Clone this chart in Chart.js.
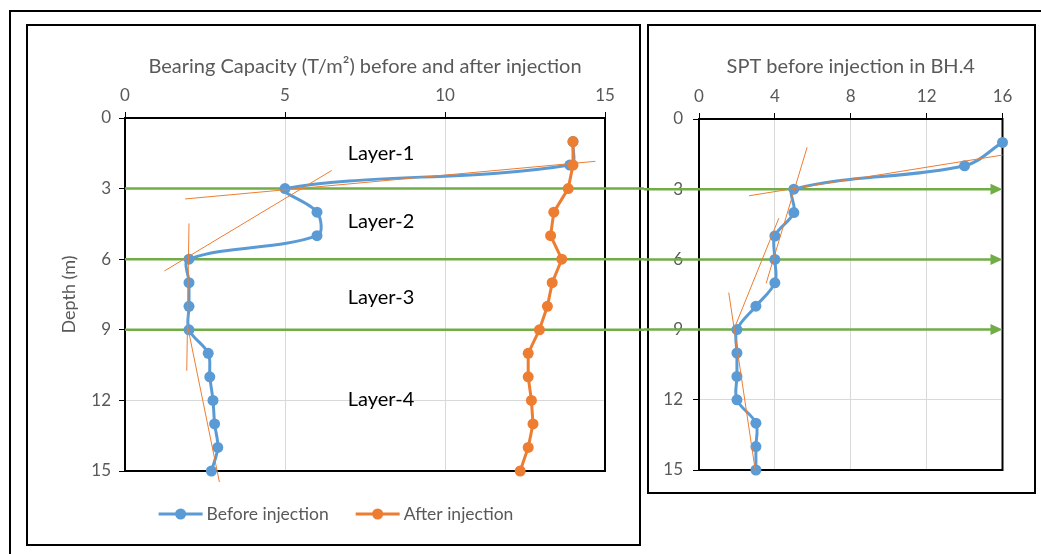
<!DOCTYPE html>
<html>
<head>
<meta charset="utf-8">
<script src="https://cdn.jsdelivr.net/npm/chart.js@4.4.1/dist/chart.umd.min.js"></script>
<style>
  body { margin: 0; background: #fff; width: 1041px; height: 554px; overflow: hidden; position: relative; }
  #outer { position: absolute; left: 9px; top: 10px; width: 1100px; height: 600px; border-left: 2px solid #000; border-top: 2px solid #000; }
  #wrapL { position: absolute; left: 0; top: 0; width: 644px; height: 554px; }
  #wrapR { position: absolute; left: 644px; top: 0; width: 397px; height: 554px; }
</style>
</head>
<body>
<div id="outer"></div>
<div id="wrapL"><canvas id="chartBC"></canvas></div>
<div id="wrapR"><canvas id="chartSPT"></canvas></div>
<script>
// depth (m) of each reading
const depths = [1, 2, 3, 4, 5, 6, 7, 8, 9, 10, 11, 12, 13, 14, 15];
// bearing capacity (T/m2)
const bcBefore = [14.0, 13.9, 5.0, 6.0, 6.0, 2.0, 2.0, 2.0, 2.0, 2.6, 2.65, 2.75, 2.8, 2.9, 2.7];
const bcAfter  = [14.0, 14.0, 13.85, 13.4, 13.3, 13.65, 13.35, 13.2, 12.95, 12.6, 12.6, 12.7, 12.75, 12.6, 12.35];
// SPT N values in BH.4
const sptBefore = [16, 14, 5, 5, 4, 4, 4, 3, 2, 2, 2, 2, 3, 3, 3];

// hand drawn tangent lines, [x, depth] end points
const bcTangents = [
  [[1.88, 3.44], [14.7, 1.84]],
  [[1.23, 6.5], [6.46, 2.23]],
  [[2.0, 4.48], [1.93, 10.74]],
  [[1.95, 8.8], [2.95, 15.47]]
];
const sptTangents = [
  [[2.64, 3.28], [16.0, 1.54]],
  [[5.7, 1.21], [3.54, 7.02]],
  [[4.21, 4.24], [1.9, 8.87]],
  [[1.57, 7.42], [2.99, 15.14]]
];

// layer boundaries and names
const layerBounds = [3, 6, 9];
const layerNames = ['Layer-1', 'Layer-2', 'Layer-3', 'Layer-4'];
const layerX = [8.0, 8.0, 8.0, 8.0];
const layerDepth = [1.49, 4.38, 7.65, 11.98];

const bcTicksX = { min: 0, max: 15, step: 5 };
const sptTicksX = { min: 0, max: 16, step: 4 };
const depthTicks = { min: 0, max: 15, step: 3 };

const FONT = 'Lato, "Open Sans", sans-serif';
const GREY = '#595959';
const BLUE = '#5B9BD5', ORANGE = '#ED7D31', GREEN = '#70AD47';

const pts = (xs) => xs.map((x, i) => ({ x, y: depths[i] }));

function tangentSets(list) {
  return list.map(seg => ({
    label: '', data: seg.map(p => ({ x: p[0], y: p[1] })),
    borderColor: ORANGE, borderWidth: 1, pointRadius: 0, tension: 0, clip: false, order: 0, isTangent: true
  }));
}

function scalesFor(xt, padTop, yWidth, yTitle, yPad) {
  return {
    x: {
      type: 'linear', position: 'top', min: xt.min, max: xt.max,
      ticks: { stepSize: xt.step, color: GREY, font: { family: FONT, size: 17 }, padding: 6 },
      grid: { color: '#D9D9D9', tickColor: '#000', tickLength: 6, lineWidth: 1 },
      border: { display: true, color: '#000', width: 2 },
      afterFit(s) { s.height = padTop; }
    },
    y: {
      type: 'linear', reverse: true, min: depthTicks.min, max: depthTicks.max,
      ticks: { stepSize: depthTicks.step, color: GREY, font: { family: FONT, size: 17 }, padding: yPad },
      grid: { color: '#D9D9D9', tickColor: '#000', tickLength: 6, lineWidth: 1 },
      border: { display: true, color: '#000', width: 2 },
      title: { display: !!yTitle, text: yTitle, color: GREY, font: { family: FONT, size: 18 }, padding: 2 },
      afterFit(s) { s.width = yWidth; }
    }
  };
}

// frame, plot border, green layer lines, titles, layer names, legend
function decorPlugin(opts) {
  return {
    id: 'decor',
    beforeDraw(chart) {
      const c = chart.ctx, f = opts.frame;
      c.save();
      c.strokeStyle = '#000'; c.lineWidth = 2;
      c.strokeRect(f[0], f[1], f[2] - f[0], f[3] - f[1]);
      c.restore();
    },
    beforeDatasetsDraw(chart) {
      const c = chart.ctx, a = chart.chartArea, sx = chart.scales.x, sy = chart.scales.y;
      c.save();
      c.strokeStyle = '#000'; c.lineWidth = 2;
      c.strokeRect(a.left, a.top, a.right - a.left, a.bottom - a.top);
      c.strokeStyle = GREEN; c.fillStyle = GREEN; c.lineWidth = 2.5;
      layerBounds.forEach(d => {
        const y = sy.getPixelForValue(d);
        const x0 = opts.arrow ? 0 : a.left;
        const x1 = opts.arrow ? sx.getPixelForValue(sx.max) - 11 : chart.width;
        c.beginPath(); c.moveTo(x0, y); c.lineTo(x1, y); c.stroke();
        if (opts.arrow) {
          const tip = sx.getPixelForValue(sx.max);
          c.beginPath(); c.moveTo(tip, y); c.lineTo(tip - 12, y - 5.5); c.lineTo(tip - 12, y + 5.5); c.closePath(); c.fill();
        }
      });
      c.restore();
    },
    afterDraw(chart) {
      const c = chart.ctx, a = chart.chartArea, sx = chart.scales.x, sy = chart.scales.y;
      c.save();
      c.fillStyle = GREY; c.font = '20px ' + FONT; c.textAlign = 'center'; c.textBaseline = 'middle';
      c.fillText(opts.title, (a.left + a.right) / 2, 67);
      if (opts.layers) {
        c.fillStyle = '#000'; c.font = '20px ' + FONT;
        layerNames.forEach((n, i) => c.fillText(n, sx.getPixelForValue(layerX[i]), sy.getPixelForValue(layerDepth[i])));
      }
      if (opts.legend) {
        const items = chart.data.datasets.filter(d => !d.isTangent);
        c.font = '17.5px ' + FONT; c.textAlign = 'left';
        const widths = items.map(d => 44 + 4 + c.measureText(d.label).width);
        const gap = 27;
        const total = widths.reduce((s, w) => s + w, 0) + gap * (items.length - 1);
        let x = opts.legend.cx - total / 2;
        const y = opts.legend.y;
        items.forEach((d, i) => {
          c.strokeStyle = d.borderColor; c.lineWidth = 3;
          c.beginPath(); c.moveTo(x, y); c.lineTo(x + 44, y); c.stroke();
          c.fillStyle = d.borderColor;
          c.beginPath(); c.arc(x + 22, y, 5.5, 0, Math.PI * 2); c.fill();
          c.fillStyle = GREY;
          c.fillText(d.label, x + 48, y);
          x += widths[i] + gap;
        });
      }
      c.restore();
    }
  };
}

const lineStyle = (color, tension) => ({
  borderColor: color, backgroundColor: color, borderWidth: 3, pointRadius: 5.5, pointHoverRadius: 5.5,
  pointBorderWidth: 0, tension, clip: false, showLine: true
});

new Chart(document.getElementById('chartBC'), {
  type: 'line',
  data: {
    datasets: [
      ...tangentSets(bcTangents),
      { label: 'Before injection', data: pts(bcBefore), ...lineStyle(BLUE, 0.35), order: 2 },
      { label: 'After injection', data: pts(bcAfter), ...lineStyle(ORANGE, 0), order: 1 }
    ]
  },
  options: {
    responsive: true, maintainAspectRatio: false, animation: false,
    layout: { padding: { left: 56, top: 0, right: 39, bottom: 83 } },
    scales: scalesFor(bcTicksX, 118, 69, 'Depth (m)', 8),
    plugins: { legend: { display: false }, tooltip: { enabled: false } }
  },
  plugins: [decorPlugin({
    frame: [27, 25, 640, 545], title: 'Bearing Capacity (T/m²) before and after injection',
    layers: true, legend: { cx: 336, y: 514 }
  })]
});

new Chart(document.getElementById('chartSPT'), {
  type: 'line',
  data: {
    datasets: [
      ...tangentSets(sptTangents),
      { label: 'SPT', data: pts(sptBefore), ...lineStyle(BLUE, 0.35), order: 2 }
    ]
  },
  options: {
    responsive: true, maintainAspectRatio: false, animation: false,
    layout: { padding: { left: 10, top: 0, right: 38.5, bottom: 84 } },
    scales: scalesFor(sptTicksX, 119, 45, '', 10),
    plugins: { legend: { display: false }, tooltip: { enabled: false } }
  },
  plugins: [decorPlugin({
    frame: [4, 25, 391, 493], title: 'SPT before injection in BH.4', arrow: true
  })]
});
</script>
</body>
</html>
